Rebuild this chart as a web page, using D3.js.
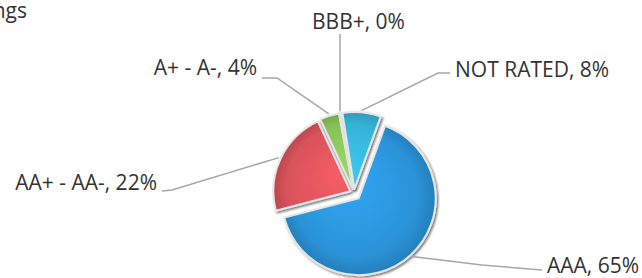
<!DOCTYPE html>
<html>
<head>
<meta charset="utf-8">
<script src="https://cdn.jsdelivr.net/npm/d3@7"></script>
<style>
  body { margin: 0; background: #fff; }
  svg { display: block; }
  text { font-family: "Open Sans", "DejaVu Sans", sans-serif; fill: #333; }
</style>
</head>
<body>
<div id="chart"></div>
<script>
var categories = ["AAA", "AA+ - AA-", "A+ - A-", "BBB+", "NOT RATED"];
var values = [65, 22, 4, 0.4, 8];
var colors = ["#2b93d8", "#d8525a", "#88c057", "#bdbdbd", "#35b2d6"];

// label placement (layout only)
var labelLayout = [
  { elbow: [482, 265], end: [542, 270], x: 547, y: 273, anchor: "start" },
  { elbow: [172, 190], end: [162, 191], x: 157, y: 190, anchor: "end" },
  { elbow: [277, 78], end: [262, 78], x: 257, y: 75, anchor: "end" },
  { elbow: null, end: [null, 34], x: 312, y: 29, anchor: "start" },
  { elbow: [438, 73], end: [450, 73], x: 455, y: 77, anchor: "start" }
];

var width = 642, height = 278;
var cx = 354, cy = 193, radius = 77;
var explode = [7, 4, 4, 4, 4];

var svg = d3.select("#chart").append("svg")
  .attr("width", width)
  .attr("height", height);

var defs = svg.append("defs");

var shadow = defs.append("filter")
  .attr("id", "shadow")
  .attr("x", "-20%").attr("y", "-20%")
  .attr("width", "140%").attr("height", "140%");
shadow.append("feDropShadow")
  .attr("dx", 1.5).attr("dy", 1.5)
  .attr("stdDeviation", 1.2)
  .attr("flood-color", "#000")
  .attr("flood-opacity", 0.55);

colors.forEach(function(c, i) {
  var grad = defs.append("radialGradient")
    .attr("id", "grad" + i)
    .attr("gradientUnits", "userSpaceOnUse")
    .attr("cx", 0).attr("cy", 0).attr("r", radius)
    .attr("fx", -radius * 0.2).attr("fy", -radius * 0.25);
  grad.append("stop").attr("offset", "0%").attr("stop-color", d3.color(c).brighter(0.35));
  grad.append("stop").attr("offset", "80%").attr("stop-color", c);
  grad.append("stop").attr("offset", "100%").attr("stop-color", d3.color(c).darker(0.4));
});

// title (cut off at left edge in the original)
svg.append("text")
  .attr("x", 27)
  .attr("y", 18)
  .attr("text-anchor", "end")
  .style("font-size", "21px")
  .text("Ratings");

var pie = d3.pie()
  .sort(null)
  .value(function(d) { return d; })
  .startAngle(20 * Math.PI / 180)
  .endAngle(380 * Math.PI / 180);

var arcs = pie(values);

var arc = d3.arc()
  .innerRadius(0)
  .outerRadius(radius);

var g = svg.append("g")
  .attr("transform", "translate(" + cx + "," + cy + ")");

function offsetOf(d, i, extra) {
  var a = (d.startAngle + d.endAngle) / 2;
  var r = explode[i] + (extra || 0);
  return [Math.sin(a) * r, -Math.cos(a) * r];
}

g.selectAll("path.slice")
  .data(arcs)
  .enter().append("path")
  .attr("class", "slice")
  .attr("transform", function(d, i) {
    var o = offsetOf(d, i);
    return "translate(" + o[0] + "," + o[1] + ")";
  })
  .attr("d", arc)
  .attr("fill", function(d, i) { return "url(#grad" + i + ")"; })
  .attr("stroke", "#e6e6e6")
  .attr("stroke-width", 2)
  .attr("stroke-linejoin", "round")
  .attr("filter", "url(#shadow)");

// leader lines
var line = d3.line();
arcs.forEach(function(d, i) {
  var a = (d.startAngle + d.endAngle) / 2;
  var rr = radius + explode[i] + 2;
  var p0 = [cx + Math.sin(a) * rr, cy - Math.cos(a) * rr];
  var L = labelLayout[i];
  var pts = [p0];
  if (L.elbow) pts.push(L.elbow);
  pts.push([L.end[0] == null ? p0[0] : L.end[0], L.end[1]]);
  svg.append("path")
    .attr("d", line(pts))
    .attr("fill", "none")
    .attr("stroke", "#a6a6a6")
    .attr("stroke-width", 1.5);
});

svg.selectAll("text.label")
  .data(arcs)
  .enter().append("text")
  .attr("class", "label")
  .attr("x", function(d, i) { return labelLayout[i].x; })
  .attr("y", function(d, i) { return labelLayout[i].y; })
  .attr("text-anchor", function(d, i) { return labelLayout[i].anchor; })
  .style("font-size", "21px")
  .text(function(d, i) { return categories[i] + ", " + Math.round(values[i]) + "%"; });
</script>
</body>
</html>
